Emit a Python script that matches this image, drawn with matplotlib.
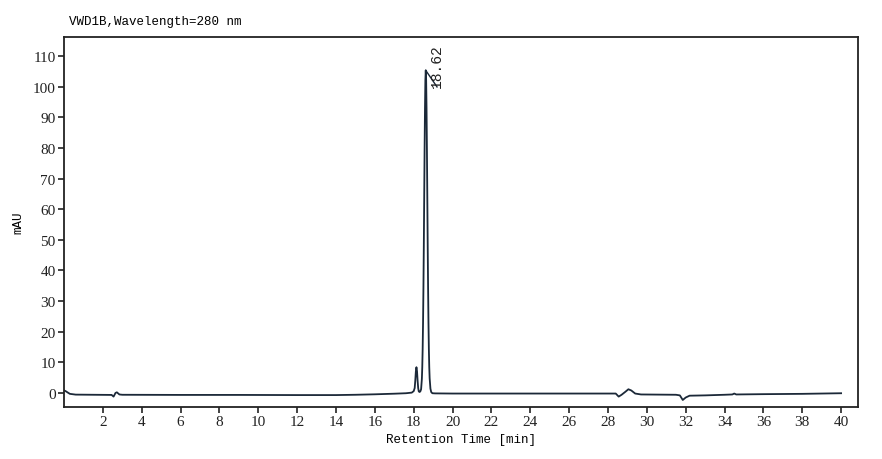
import numpy as np
import matplotlib.pyplot as plt

# Chromatogram (time in min, signal in mAU)
tid = [0.00, 0.08, 0.15, 0.30, 0.60, 1.50, 2.45, 2.55, 2.65, 2.72, 2.85, 3.00,
       6.00, 9.00, 12.00, 14.00, 15.00, 16.00, 17.00, 17.60, 17.90, 18.00,
       18.05, 18.08, 18.11, 18.14, 18.17, 18.20, 18.23, 18.26, 18.30, 18.34,
       18.38, 18.42, 18.44, 18.46, 18.48, 18.50, 18.52, 18.54, 18.56, 18.58,
       18.60, 18.62, 18.64, 18.66, 18.68, 18.70, 18.72, 18.74, 18.76, 18.78,
       18.80, 18.82, 18.86, 18.90, 18.96, 19.10, 20.00, 22.00, 26.00, 28.40,
       28.55, 28.70, 28.90, 29.05, 29.20, 29.40, 29.70, 31.50, 31.70, 31.85,
       32.00, 32.20, 33.00, 34.00, 34.40, 34.50, 34.60, 36.00, 38.00, 40.00]
signal = [0.8, 0.6, 0.3, -0.3, -0.55, -0.6, -0.65, -1.2, 0.0, 0.2, -0.5, -0.6,
          -0.65, -0.65, -0.7, -0.7, -0.6, -0.45, -0.25, -0.1, 0.1, 0.6,
          1.6, 4.0, 7.0, 8.4, 7.1, 4.0, 1.6, 0.5, 0.3, 0.5,
          1.2, 4.6, 8.4, 14.2, 22.8, 34.2, 48.2, 63.9, 79.5, 92.9,
          102.1, 105.3, 102.1, 92.9, 79.5, 63.9, 48.2, 34.2, 22.8, 14.2,
          8.4, 4.8, 1.4, 0.3, -0.1, -0.15, -0.2, -0.2, -0.2, -0.2,
          -1.2, -0.6, 0.4, 1.2, 0.8, -0.2, -0.5, -0.6, -0.8, -2.3,
          -1.5, -0.9, -0.8, -0.6, -0.5, -0.2, -0.5, -0.4, -0.3, -0.1]

topp_tid = 18.62
topp_hoyde = 105.3
x_ticks = list(range(2, 41, 2))
y_ticks = list(range(0, 111, 10))

fig = plt.figure(figsize=(8.82, 4.60), dpi=100)
ax = fig.add_axes([0.0726, 0.113, 0.9002, 0.8044])

ax.plot(tid, signal, color="#1b2838", lw=1.3)

# peak label with leader line
ax.plot([topp_tid, topp_tid + 0.58], [topp_hoyde, topp_hoyde - 5.4], color="#1b2838", lw=1.0)
ax.text(topp_tid + 0.56, topp_hoyde - 5.4, f"{topp_tid:.2f}", rotation=90,
        ha="center", va="bottom", fontsize=10.5, family="Liberation Mono", color="#222222")

ax.set_xlim(0, 40.87)
ax.set_ylim(-4.6, 116.2)
ax.set_xticks(x_ticks)
ax.set_yticks(y_ticks)
ax.tick_params(direction="out", length=4, width=1.2, labelsize=11, colors="#222222",
               top=False, right=False, pad=2)
for lab in ax.get_xticklabels() + ax.get_yticklabels():
    lab.set_family("Liberation Serif")
for sp in ax.spines.values():
    sp.set_linewidth(1.3)
    sp.set_color("#222222")

ax.set_xlabel("Retention Time [min]", family="Liberation Mono", fontsize=9, labelpad=3)
ax.set_ylabel("mAU", family="Liberation Mono", fontsize=9, labelpad=6)
fig.text(69 / 882, 1 - 22 / 460, "VWD1B,Wavelength=280 nm", family="Liberation Mono",
         fontsize=9, va="center", ha="left")

fig.savefig("out.png", dpi=100)
